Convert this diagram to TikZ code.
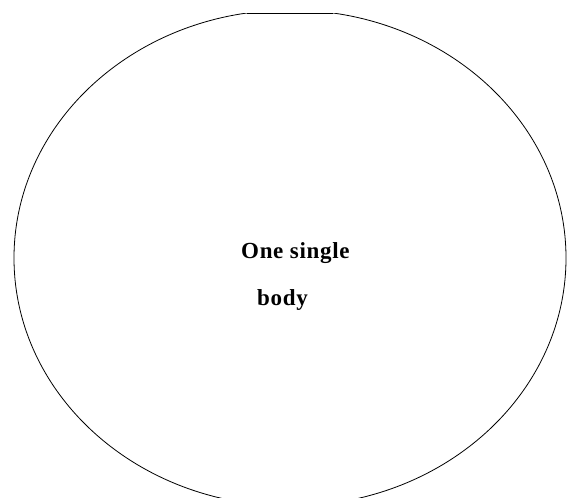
\documentclass[tikz,border=0pt]{standalone}
\usepackage{fontspec}
\setmainfont{Liberation Serif}
\newfontfamily\labelfont[LetterSpace=3]{Liberation Serif}
\begin{document}
\begin{tikzpicture}[x=1pt,y=-1pt,
  outline/.style={draw=black,line width=0.8pt},
  bodytext/.style={inner sep=0pt,anchor=base west,font=\labelfont\fontsize{23}{23}\selectfont\bfseries}]
\useasboundingbox (0,0) rectangle (568,498);
\begin{scope}
  \clip (0,13) rectangle (568,498);
  \draw[outline] (290,258) ellipse [x radius=276, y radius=248];
\end{scope}
\coordinate (tl) at (247,13);
\coordinate (tr) at (333,13);
\draw[outline] (tl) -- (tr);
\node[bodytext] (l1) at (241,258) {One single};
\node[bodytext] (l2) at (257,305) {body};
\end{tikzpicture}
\end{document}
